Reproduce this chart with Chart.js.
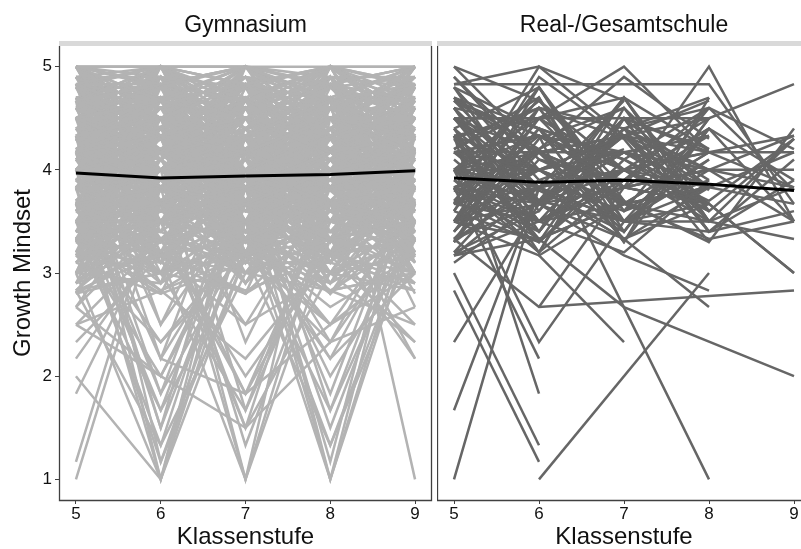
<!DOCTYPE html>
<html lang="de">
  <head>
    <meta charset="utf-8">
    <title>Growth Mindset nach Klassenstufe</title>
    <script src="https://cdn.jsdelivr.net/npm/chart.js@4.4.1/dist/chart.umd.min.js"></script>
    <style>
      html, body { margin: 0; padding: 0; background: #fff; overflow: hidden; width: 801px; height: 549px; }
      #left { position: absolute; left: 0; top: 0; }
      #right { position: absolute; left: 437px; top: 0; }
    </style>
  </head>
  <body>
    <canvas id="left" width="436" height="549"></canvas>
    <canvas id="right" width="374" height="549"></canvas>

    <script>
      // grades on the x axis
      var grades = [5, 6, 7, 8, 9];
      var xTicks = [5, 6, 7, 8, 9];
      var yTicks = [1, 2, 3, 4, 5];

      // mean lines (black)
      var gymMean = [3.97, 3.92, 3.94, 3.955, 3.99];
      var realMean = [3.92, 3.88, 3.90, 3.86, 3.80];

      // Gymnasium: one row per student, values for grade 5..9 (null = missing)
      var gymLines = [
        [5,5,4.83,5,5], [5,4.83,5,4.67,5], [4.83,5,5,4.83,4.67], [5,4.67,4.5,4.83,5],
        [4.67,4.83,4.67,5,4.83], [4.5,4.67,5,4.5,4.33], [4.83,4.5,4.33,4.67,4.83], [4.33,4.5,4.83,4.33,4.67],
        [4.67,4.33,4.17,4.5,4.5], [4.17,4.33,4.5,4.17,4], [4.5,4.17,4,4.33,4.5], [4,4.17,4.33,4.5,4.17],
        [4.33,4,3.83,4.17,4.33], [3.83,4,4.17,3.83,4], [4.17,3.83,3.67,4,4.17], [3.67,3.83,4,3.67,3.83],
        [4,3.67,3.5,3.83,3.67], [3.5,3.67,3.83,3.5,3.33], [3.83,3.5,3.33,3.67,3.5], [3.33,3.5,3.67,3.33,3.17],
        [3.67,3.33,3.17,3.5,3.67], [3.17,3.33,3.5,3.17,3], [3.5,3.17,3,3.33,3.5], [3,3.17,3.33,3,2.83],
        [3.33,3,2.83,3.17,3.33], [2.83,3,3.17,2.83,3], [5,4.33,4.67,4,4.5], [4.83,4.17,4.5,3.83,4.33],
        [4.67,4,4.33,3.67,4.17], [4.5,3.83,4.17,3.5,4], [4.33,3.67,4,3.33,3.83], [4.17,3.5,3.83,3.17,3.67],
        [4,3.33,3.67,3,3.5], [3.83,3.17,3.5,2.83,3.33], [3.67,3,3.33,2.67,3.17], [3.5,2.83,3.17,2.5,3],
        [4,4.67,4.17,4.83,4.33], [3.83,4.5,4,4.67,4.17], [3.67,4.33,3.83,4.5,4], [3.5,4.17,3.67,4.33,3.83],
        [3.33,4,3.5,4.17,3.67], [3.17,3.83,3.33,4,3.5], [3,3.67,3.17,3.83,3.33], [2.83,3.5,3,3.67,3.17],
        [4.67,5,4.17,4.5,3.83], [4.5,4.83,4,4.33,3.67], [4.33,4.67,3.83,4.17,3.5], [4.17,4.5,3.67,4,3.33],
        [4,4.33,3.5,3.83,3.17], [3.83,4.17,3.33,3.67,3], [5,3.83,4.5,3.67,4.83], [4.83,3.67,4.33,3.5,4.67],
        [4.67,3.5,4.17,3.33,4.5], [4.5,3.33,4,3.17,4.33], [4.33,3.17,3.83,3,4.17], [3.5,4.83,3.67,5,3.83],
        [3.33,4.67,3.5,4.83,3.67], [3.17,4.5,3.33,4.67,3.5], [3,4.33,3.17,4.5,3.33], [3.67,5,3.83,4.67,4],
        [5,4.5,3.83,4.17,4.83], [4.83,4.33,3.67,4,4.67], [4.17,4.83,5,4.33,3.83], [4,4.67,4.83,4.17,3.67],
        [3.83,4.17,4.83,5,4.5], [3.67,4,4.67,4.83,4.33], [4.5,4,3.5,4,4.5], [4.33,3.83,3.33,3.83,4.33],
        [4.17,4.5,4.83,4.5,4.17], [4,4.33,4.67,4.33,4], [3.83,4.33,4.83,4.33,3.83], [4.67,4.17,3.67,4.17,4.67],
        [4.83,4,3.17,4,4.83], [3.17,4,4.83,4,3.17], [3,3.83,4.67,3.83,3], [2.67,3.5,4.33,3.67,3.83],
        [2.5,3.33,4,3.5,3.67], [5,4.17,3.33,4.5,5], [3.33,4.17,5,4.33,3.5], [4.5,5,4.5,5,4.5],
        [4.67,4.67,4.33,4.67,4.67], [4.33,4.33,4.5,4.33,4.5], [4,4,4.17,4,4.17], [3.83,3.83,4,3.83,3.83],
        [3.67,3.67,3.83,3.67,3.5], [3.5,3.5,3.67,3.5,3.67], [4.17,4.17,3.83,4.17,4], [4.5,4.5,4.17,4.67,4.33],
        [4.83,4.83,4.67,4.83,5], [5,5,5,4.67,4.83], [4.67,5,4.83,5,4.5],
        [5,4.83,4.5,4.17,4.33], [4.83,4.67,4.33,4,4.17], [4.67,4.5,4.17,3.83,4], [4.5,4.33,4,3.67,3.83],
        [4.33,4.17,3.83,3.5,3.67], [4.17,4,3.67,3.33,3.5], [4,3.83,3.5,3.17,3.33], [3.83,3.67,3.33,3,3.17],
        [3.67,3.5,3.17,2.83,3], [3.5,3.83,4.17,4.5,4.83], [3.33,3.67,4,4.33,4.67], [3.17,3.5,3.83,4.17,4.5],
        [3,3.33,3.67,4,4.33], [3.67,4,4.33,4.67,5], [3.83,4.17,4.5,4.83,5], [4,4.33,4.67,5,4.83],
        [4.17,4.67,5,4.83,4.67], [4.33,4.83,5,5,4.5], [4.5,5,4.83,4.67,4.17], [4.67,5,4.67,4.33,4],
        [4.83,5,4.5,4.17,3.83], [5,4.83,4.17,3.83,3.67], [5,4.67,4,3.67,3.5], [4.83,4.5,3.83,3.5,3.33],
        [4.67,4.33,3.67,3.33,3.17], [5,4.5,5,4.5,5], [4.83,4.33,4.83,4.33,4.83], [4.67,4.17,4.67,4.17,4.67],
        [4.5,4,4.5,4,4.5], [4.33,3.83,4.33,3.83,4.33], [4.17,3.67,4.17,3.67,4.17], [4,3.5,4,3.5,4],
        [3.83,3.33,3.83,3.33,3.83], [3.67,3.17,3.67,3.17,3.67], [3.5,3,3.5,3,3.5], [4.5,4.83,4.5,4.83,4.5],
        [4.33,4.67,4.33,4.67,4.33], [4.17,4.5,4.17,4.5,4.17], [4,4.33,4,4.33,4], [3.83,4.17,3.83,4.17,3.83],
        [3.67,4,3.67,4,3.67], [3.5,3.83,3.5,3.83,3.5], [3.33,3.67,3.33,3.67,3.33], [3.17,3.5,3.17,3.5,3.17],
        [3,3.33,3,3.33,3], [2.83,3.17,2.83,3.17,2.83], [5,4,4.83,3.83,4.67], [4.17,5,4,4.83,3.83],
        [3.67,4.83,4.17,5,4.33], [4.83,3.83,5,4,5], [4.33,3.5,4.67,3.67,4.83], [3.5,4.67,3.33,4.5,3.17],
        [3.33,4.5,3.17,4.33,3], [4,5,3.83,5,3.67], [3.83,4.83,3.67,4.83,3.5], [4.67,3.67,4.83,3.5,4.67],
        [4.5,3.5,4.67,3.33,4.5], [5,3.67,5,3.83,5], [2.67,3.83,3.5,4.17,4], [2.83,3.67,4.17,3.83,4.5],
        [null,4.67,4.33,4.83,null], [4.5,4.17,null,null,null], [null,null,4.5,4.17,4.83], [4.17,null,4.67,null,4.33],
        [5,4.6,4.9,4.2,4.7], [4.8,5,4.4,4.9,4.1], [4.6,4.1,5,4.5,4.8], [4.4,4.8,4.2,5,4.6],
        [4.2,4.5,4.7,4.1,5], [4,4.9,4.3,4.6,4.4], [3.8,4.3,4.8,4.4,4.9], [3.6,4.7,4.1,4.8,4.3],
        [3.4,4.2,4.6,3.9,4.5], [3.2,3.9,4.4,4.7,4.2], [3,3.7,4.1,4.3,4.8], [2.9,3.5,3.8,4.6,4.1],
        [5,3.8,4.3,3.6,4.2], [4.9,3.4,4,4.4,3.7], [4.7,3.1,4.5,3.8,4.6], [4.5,3.6,3.9,4.2,3.5],
        [4.3,5,3.7,4.5,3.9], [4.1,4.8,3.5,4,4.4], [3.9,4.6,3.2,4.8,4], [3.7,4.4,3,4.1,4.7],
        [3.5,4.2,4.9,3.4,4.3], [3.3,4,4.7,3.1,3.9], [3.1,3.8,4.5,3.7,3.4], [4.9,4.4,3.6,3.3,4.8],
        [4.7,4.2,3.4,3.9,5], [4.5,4,3.8,3.5,4.6], [4.3,3.8,4.2,3,4.1], [4.1,3.6,4.6,3.8,3.6],
        [3.9,3.4,5,4.3,3.2], [3.7,3.2,4.4,4.9,3.8], [3.5,3,4,4.5,4.5], [5,4.9,4.1,3.6,3.3],
        [4.8,4.7,3.9,3.2,3.7], [4.6,4.5,3.7,3.8,3.1], [4.4,4.3,3.5,4.4,3], [4.2,4.1,3.3,5,3.6],
        [4,3.9,3.1,4.6,4.3], [3.8,3.7,2.9,4.2,4.9], [3.6,3.5,3.6,3.9,5], [3.4,3.3,4.3,3.5,4.7],
        [3.2,3.1,4.8,4,4.4], [3,2.9,5,4.7,4], [4.9,5,5,4.8,4.9], [4.7,4.9,4.8,5,5],
        [5,4.8,5,4.9,4.7], [4.8,4.6,4.9,4.7,5], [4.6,5,4.7,5,4.8], [4.4,4.7,5,4.6,4.9],
        [4.2,4.4,4.6,4.8,4.5], [4,4.2,4.4,4.5,4.7], [3.8,4,4.2,4.3,4.4], [3.6,3.9,4,4.1,4.2],
        [4.9,4.3,3.8,4,4.1], [4.5,4.1,3.6,3.8,3.9], [4.1,3.9,3.4,3.6,3.8], [3.7,3.6,3.2,3.4,3.6],
        [3.3,3.4,3,3.2,3.3], [5,4.5,4.2,4.4,4], [4.8,4.2,4,4.2,3.8], [4.6,4,3.7,3.9,3.5],
        [4.4,3.8,3.5,3.7,3.2], [4.2,3.5,3.3,3.4,3], [4,3.3,3.1,3.1,2.9], [3.9,4.5,4.9,4.4,4.6],
        [3.7,4.3,4.7,4.2,4.3], [3.5,4.1,4.5,4,4.1], [3.3,3.9,4.3,3.8,3.9], [3.1,3.7,4.1,3.6,3.7],
        [2.9,3.5,3.9,3.4,3.5], [4.8,3.2,4.8,3.3,4.8], [4.6,3,4.6,3.1,4.6], [4.3,2.9,4.3,2.9,4.2],
        [3.2,4.9,3.3,4.9,3.4], [3,4.7,3.1,4.7,3.2], [2.9,4.5,2.9,4.4,3], [3.4,5,3.5,5,3.6],
        [5,3.5,4.6,3.3,4.5], [4.7,3.3,4.3,3.1,4.2], [4.4,3.1,4,2.9,3.9], [3.6,4.8,3.2,4.6,3.1],
        [3.8,5,3.4,4.9,3.3], [4,4.6,3.6,4.5,3.5], [4.2,4.4,3.8,4.3,3.7], [4.4,4.2,4,4.1,3.9],
        [4.6,4,4.2,3.9,4.1], [4.8,3.8,4.4,3.7,4.3], [5,3.6,4.6,3.5,4.5], [3.5,4.1,4.7,5,4.4],
        [3.7,4.3,4.9,4.8,4.6], [3.9,4.5,5,4.6,4.8], [4.1,4.7,4.8,4.4,5], [4.3,4.9,4.6,4.2,4.9],
        [4.5,5,4.4,4,4.7], [4.7,4.8,4.2,3.8,4.5], [4.9,4.6,4,3.6,4.3], [5,4.4,3.8,3.4,4.1],
        [3.1,3.6,4.2,4.7,5], [3.3,3.8,4.4,4.9,4.8], [3.5,4,4.6,5,4.6], [3.8,4.2,4.8,4.7,4.4],
        [4,4.4,5,4.5,4.2], [4.2,4.6,4.7,4.3,4], [4.4,4.8,4.5,4.1,3.8], [4.6,5,4.3,3.9,3.6],
        [4.8,4.7,4.1,3.7,3.4], [5,4.5,3.9,3.5,3.2], [4.5,4.9,3.7,4.9,3.8], [4.3,4.7,3.5,4.7,3.6],
        [4.1,4.5,3.3,4.5,3.4], [3.9,4.3,3.1,4.3,3.2], [3.6,4.1,2.9,4.1,3], [4.9,3.7,4.5,3.2,4.4],
        [4.7,3.5,4.3,3,4.2], [4.5,3.3,4.1,2.8,4], [4.3,3.1,3.9,3.3,3.8], [4.1,2.9,3.7,3.5,3.6],
        [5,4.3,3.6,4.7,3.9], [4.8,4.1,3.4,4.5,3.7], [4.6,3.9,3.2,4.3,3.5], [4.4,3.7,3,4.1,3.3],
        [3.4,3.9,4.5,5,4.5], [3.2,3.7,4.3,4.8,4.3], [3,3.5,4.1,4.6,4.1], [2.8,3.3,3.9,4.4,3.9],
        [4,4.8,4.1,3.5,4.8], [3.8,4.6,3.9,3.3,4.6], [3.6,4.4,3.7,3.1,4.4], [3.4,4.2,3.5,2.9,4.2],
        [4.9,4.1,4.9,4,4.9], [4.7,3.9,4.7,3.8,4.7], [4.5,3.7,4.5,3.6,4.5], [4.3,3.5,4.3,3.4,4.3],
        [4.1,3.3,4.1,3.2,4.1], [3.9,3.1,3.9,3,3.9], [4.2,4.9,4.2,4.9,4.2], [4,4.7,4,4.7,4],
        [3.8,4.5,3.8,4.5,3.8], [3.6,4.3,3.6,4.3,3.6], [3.4,4.1,3.4,4.1,3.4], [3.2,3.9,3.2,3.9,3.2],
        [5,5,4.5,4.2,4.6], [4.9,4.9,4.3,4,4.4], [4.8,4.8,4.1,3.8,4.2], [4.7,4.6,3.9,3.6,4],
        [4.6,4.4,3.7,3.4,3.8], [4.5,4.2,3.5,3.2,3.6], [3.3,3.2,3.8,4.4,5], [3.5,3.4,4,4.6,4.8],
        [3.7,3.6,4.2,4.8,4.6], [3.9,3.8,4.4,5,4.4], [4.1,4,4.6,4.9,4.2], [4.3,4.2,4.8,4.7,4],
        [2.9,3.8,3.4,4,3.7], [3.1,4,3.6,4.2,3.9], [3.3,4.2,3.8,4.4,4.1], [3.5,4.4,4,4.6,4.3],
        [3.7,4.6,4.2,4.8,4.5], [3.9,4.8,4.4,5,4.7], [4.1,5,4.6,4.9,4.9], [4.9,4.7,4.9,4.5,4.3],
        [2.8,4.1,3.2,4.7,3.1], [3.1,2.8,4.4,3.2,4.6], [4.6,3.2,2.8,4.6,3.3], [3.2,4.4,3.9,2.8,3.5],
        [2.9,3.2,2.8,3.6,2.9], [3.6,2.9,3.4,2.8,3.7], [4.8,4.3,2.9,3.7,4.5], [2.8,3,3.3,3.1,4.6],
        [3.3,2.8,3.1,4.2,2.8], [4.4,4.9,3.2,2.9,3.4], [3,4.8,4.4,3.2,2.9], [3.9,3.1,2.8,3.3,4.1],
        // low values
        [1,3.67,4.17,3.83,4], [1.17,3.83,4,4.33,3.67], [2,1,3.17,3.5,3.83], [1.83,3.5,3.83,4,4.17],
        [2.17,3.33,3.67,3.83,3.5], [2.33,3.17,2.5,3,3.33], [2.5,2.83,3.33,3.67,3.17], [4.33,1,3.83,4,4.17],
        [3.83,1,4.17,3.67,3.83], [4.67,1.17,3.5,4.17,4.33], [3.5,1.33,3.83,4.5,4], [4,1.5,4.33,3.83,4.17],
        [3.67,1.67,3.17,4,3.5], [4.17,1.83,4,3.67,3.83], [3.33,2,3.67,4.17,3.67], [4.5,2.17,3.5,3.83,4.5],
        [3.17,2.33,3.33,3.5,3.83], [4.83,2.5,4.17,4.33,4.67], [4,3.83,1,3.67,4], [4.33,4.17,1,4.5,4.17],
        [3.67,4,1.33,3.5,3.83], [4.17,3.67,1.5,4,3.67], [3.83,4.33,1.67,3.83,4.33], [4.5,3.5,1.83,3.33,3.5],
        [3.5,3.33,2,3.17,3.67], [4.17,4.5,2.33,4,4.17], [3.83,4,4.17,1,3.67], [4,3.67,3.83,1,4.17],
        [4.33,4.17,4,1.17,4.33], [3.67,3.83,3.5,1.33,3.5], [4.5,4.33,4.17,1.67,3.83], [3.5,3.67,3.83,1.83,4],
        [4.17,4,3.67,2,3.33], [4,4.33,3.5,2.17,3.67], [3.33,3.5,3.17,2.33,3.5], [4.67,3.83,3.33,2.5,3.17],
        [4,4.17,4.33,4.67,1], [3.83,3.67,3.5,3.33,2.17], [3.5,3.83,3.67,3.17,2.33], [3.17,3.33,3,2.83,2.5],
        [4.5,4.67,4.17,4.33,2.67],
        [3,1,3.5,3.83,4], [3.67,1.17,3.17,3.5,3.67], [2.83,1.33,3,3.33,3.5], [4.17,1.5,3.67,4,3.83],
        [3.33,1.67,3.83,3.67,4.17], [3.83,1.83,3.33,3.5,3.83], [2.67,2,3.5,3.67,3.33], [4,2.17,4.33,4,4.17],
        [3.5,2.33,3.17,3.33,3.5], [4.33,2.5,3.67,3.83,4], [3.5,3.17,1,3.33,3.67], [3.17,3.5,1.5,3,3.33],
        [3.83,3,1.67,3.5,3.83], [4,3.33,1.83,3.67,4], [3.33,2.83,2.17,3.17,3.5], [4.33,3.67,2.5,3.83,4.17],
        [3.67,3.33,3.5,1,3.5], [3.33,3.67,3.17,1.33,3.33], [4,3.5,3.83,1.5,3.67], [3.83,3.17,3.33,1.67,3.5],
        [3.5,3.83,3.67,2.33,3.83], [4.17,3.33,3.5,2.5,3.67], [3.17,3,3.33,2.17,3], [3.5,3.33,3.17,3.67,2.17],
        [3.83,3.5,3.33,3,2.33], [3.33,3.17,3.5,3.33,2.5], [null,2.17,1.83,2.5,null], [2.5,2,1.5,2.33,2.67]
      ];

      // Real-/Gesamtschule
      var realLines = [
        [5,4.17,4.33,null,null], [4.83,4.83,4.83,4.83,3.67], [4.5,4.5,4.5,4.5,null], [3.67,5,4.33,3.83,null],
        [4,4.5,5,4.17,null], [null,4.33,3.83,5,3.5], [5,4.67,4,3.67,null], [4.83,5,4.67,null,null],
        [4.67,3.83,4.67,null,null], [4.17,4,4.33,4.5,4.83], [null,null,4.33,4.67,null], [1,3.83,4,3.67,null],
        [null,1,null,3,null], [4.17,4.33,null,1,null], [3.5,3.33,2.67,null,2], [3,1.33,null,null,null],
        [2.83,1.17,null,null,null], [1.67,3.83,3.5,null,null], [2.33,3.67,4,3.83,null], [4,2.33,3.5,null,null],
        [3.83,2.17,null,null,null], [4.33,1.83,null,null,null], [null,2.67,3.83,3.67,3], [3.33,2.67,null,null,2.83],
        [null,3.17,2.33,null,null], [4,3.67,3.17,2.83,null], [3.5,3.83,3.33,2.67,null], [3.83,4.17,3.5,3.67,3],
        [4.33,4,4.17,3.83,null], [4.17,4.33,3.83,4,null], [4,3.83,4,4.17,4.33], [3.83,4.17,4.33,3.67,null],
        [3.67,3.5,3.83,4,null], [4.5,4.17,3.67,3.83,4.17], [4.33,3.67,4.17,4.33,null], [4.17,3.83,3.5,3.5,null],
        [4,4,3.67,4.17,3.83], [3.83,3.67,4.17,3.83,null], [3.67,4.33,4,3.5,null], [3.5,4,4.17,4,4],
        [3.33,3.67,3.83,4.33,null], [4.17,3.5,4,3.67,null], [4,4.17,3.5,3.83,null], [3.83,3.33,3.67,3.5,3.83],
        [4.33,4.5,4,null,null], [3.67,3.83,3.33,3.67,null], [4.5,4,4.33,4,4.33], [3.5,3.67,4.5,4.17,null],
        [4,4.67,3.83,null,null], [3.17,3.5,3.67,3.83,3.67], [4.67,4.17,3.83,3.67,null], [3.33,3.83,4,null,null],
        [4.17,3.67,4.5,3.83,null], [3.83,4,3.67,3.33,3.5], [4.5,3.83,4.17,null,null], [3.67,4.17,3.33,3.83,null],
        [4,3.5,3.83,4,null], [3.17,3.83,4.17,3.67,null], [4.33,3.33,3.67,4.17,null], [4.67,4.33,4,4.17,4.17],
        [3.5,4.5,3.67,null,null], [4,3.67,4.33,3.5,3.33], [3.67,4,3.5,4,null], [4.17,4.17,4.17,3.83,null],
        [3.83,3.5,4,4.5,null], [4.5,3.67,3.33,null,null], [3.33,4.17,3.83,3.67,null], [4,4.33,4.17,4,3.83],
        [3.5,3.17,3.67,3.83,null], [3.17,3.33,null,null,null], [null,4.5,4,3.67,null], [null,3.67,4.33,4.17,null],
        [4.8,3.6,4.5,3.4,null], [3.3,4.6,3.5,4.4,null], [4.6,3.4,4.4,4.6,3.8], [3.5,4.8,3.7,3.3,null],
        [4.7,4.4,3.3,4.7,null], [3.2,3.6,4.7,3.6,4.3], [4.4,3.2,4.6,3.5,null], [3.6,4.7,3.4,4.5,null],
        [4.9,4,3.5,3.4,3.9], [3.4,4.5,4.7,3.5,null], [4.3,3.3,4.1,4.6,4.2], [3.8,4.8,3.6,4.1,null],
        [4.6,3.8,3.4,4.4,null], [3.1,3.7,4.4,3.4,3.6], [4.5,3.5,4.4,3.9,null], [3.7,4.6,4.3,3.3,4.4],
        [4.7,4.2,3.4,4.5,null], [3.3,4.3,4.6,3.8,null], [4.2,4.7,3.3,4.4,3.9], [3.6,3.3,4.5,4.2,null],
        [4.8,4.4,3.7,null,null], [3.4,4.2,4.6,null,null], [4.6,3.5,3.9,4.6,null], [3.9,3.2,4.5,3.4,4.1],
        [4.4,4.8,3.5,4.1,null], [3.2,4.1,3.7,null,null], [4.1,3.4,4.4,4.7,null], [4.5,4.5,null,null,null],
        [null,3.4,4.7,3.5,4.3], [3.5,4.4,3.3,null,null], [4.9,4.1,3.9,4.4,3.5], [3.7,3.3,4,3.6,null],
        [4.2,4.6,4.4,3.4,null], [3.9,3.5,3.2,3.9,null], [4.4,3.7,4.7,4.2,null], [3.3,3.9,3.6,4.6,null],
        [4.6,4.4,4.1,3.7,4.3], [3.5,4.2,4.9,4.3,null], [4,3.2,3.9,4.4,null], [4.8,3.9,4.2,null,null],
        [3.6,4.9,4.3,null,null], [4.3,4.6,3.6,3.9,null], [3.8,3.4,4.4,4,3.5], [4.7,3.7,3.5,null,null],
        [3.4,4.4,4.1,3.6,null]
      ];

      var font = '"Liberation Sans", Arial, sans-serif';

      function toPoints(row) {
        var pts = [];
        for (var i = 0; i < grades.length; i++) {
          if (row[i] !== null) pts.push({x: grades[i], y: row[i]});
        }
        return pts;
      }

      function buildDatasets(rows, color, mean) {
        var sets = [{
          data: toPoints(mean),
          borderColor: '#000',
          borderWidth: 3,
          order: 0
        }];
        rows.forEach(function(r) {
          sets.push({ data: toPoints(r), borderColor: color, borderWidth: 2.5, order: 1 });
        });
        return sets;
      }

      // strip, facet title and panel border
      var panelDeco = {
        id: 'panelDeco',
        beforeDraw: function(chart, args, opts) {
          var ctx = chart.ctx, a = chart.chartArea;
          ctx.save();
          ctx.fillStyle = '#d9d9d9';
          ctx.fillRect(a.left, 41, a.right - a.left, 5);
          ctx.font = '23px ' + font;
          ctx.fillStyle = '#111';
          ctx.textAlign = 'center';
          ctx.textBaseline = 'alphabetic';
          ctx.fillText(opts.title, (a.left + a.right) / 2, 32);
          ctx.restore();
        },
        afterDraw: function(chart) {
          var ctx = chart.ctx, a = chart.chartArea;
          ctx.save();
          ctx.strokeStyle = '#404040';
          ctx.lineWidth = 1.3;
          ctx.beginPath();
          ctx.moveTo(a.left + 0.5, 46);
          ctx.lineTo(a.left + 0.5, a.bottom + 0.5);
          ctx.lineTo(a.right - 0.5, a.bottom + 0.5);
          ctx.lineTo(a.right - 0.5, 46);
          ctx.stroke();
          ctx.restore();
        }
      };

      function makeOptions(title, showY, padRight) {
        return {
          responsive: false,
          animation: false,
          events: [],
          elements: { point: { radius: 0 }, line: { tension: 0 } },
          layout: { padding: { top: 46, right: padRight, left: 0, bottom: 0 } },
          plugins: {
            legend: { display: false },
            tooltip: { enabled: false },
            panelDeco: { title: title }
          },
          scales: {
            x: {
              type: 'linear',
              min: 4.8,
              max: 9.2,
              afterBuildTicks: function(s) { s.ticks = xTicks.map(function(v) { return {value: v}; }); },
              afterFit: function(s) { s.height = 49; },
              grid: { drawOnChartArea: false, drawTicks: true, tickLength: 4, color: '#404040' },
              border: { display: false },
              ticks: { color: '#111', padding: 2, font: { family: font, size: 17, lineHeight: 1 } },
              title: { display: true, text: 'Klassenstufe', color: '#111', padding: 0,
                       font: { family: font, size: 24, lineHeight: 1 } }
            },
            y: {
              type: 'linear',
              display: showY,
              min: 0.8,
              max: 5.2,
              afterBuildTicks: function(s) { s.ticks = yTicks.map(function(v) { return {value: v}; }); },
              afterFit: function(s) { s.width = showY ? 59 : 0; },
              grid: { drawOnChartArea: false, drawTicks: true, tickLength: 4, color: '#404040' },
              border: { display: false },
              ticks: { color: '#111', padding: 3, font: { family: font, size: 17, lineHeight: 1 } },
              title: { display: true, text: 'Growth Mindset', color: '#111', padding: { top: 11, bottom: 0 },
                       font: { family: font, size: 24, lineHeight: 1 } }
            }
          }
        };
      }

      var leftChart = new Chart(document.getElementById('left'), {
        type: 'line',
        data: { datasets: buildDatasets(gymLines, '#b3b3b3', gymMean) },
        options: makeOptions('Gymnasium', true, 4),
        plugins: [panelDeco]
      });

      var rightChart = new Chart(document.getElementById('right'), {
        type: 'line',
        data: { datasets: buildDatasets(realLines, '#666666', realMean) },
        options: makeOptions('Real-/Gesamtschule', false, 0),
        plugins: [panelDeco]
      });
    </script>
  </body>
</html>
